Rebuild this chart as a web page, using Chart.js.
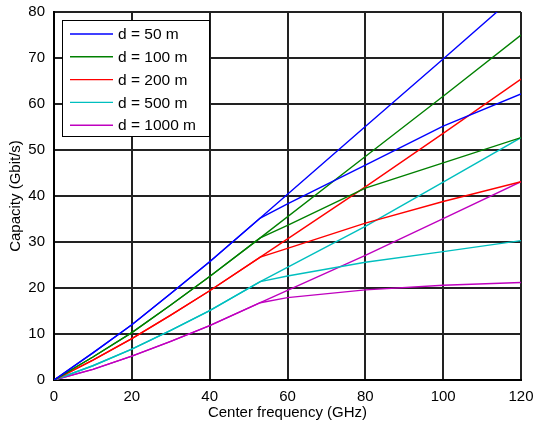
<!DOCTYPE html>
<html>
<head>
<meta charset="utf-8">
<script src="https://cdn.jsdelivr.net/npm/chart.js@4/dist/chart.umd.min.js"></script>
<style>
html,body{margin:0;padding:0;background:#fff;}
#wrap{width:533px;height:424px;position:relative;}
</style>
</head>
<body>
<div id="wrap"><canvas id="c" width="533" height="424"></canvas></div>
<script>
// ---- data ----
const distances = [50, 100, 200, 500, 1000];
const colors = ['#0000FF', '#008000', '#FF0000', '#00BFBF', '#BF00BF'];

const sharedFreq = [0, 10, 20, 30, 40, 53];
const blueShared = [0, 5.9, 12.0, 18.8, 25.7, 35.2];
const greenShared = [0, 5.0, 10.3, 16.3, 22.5, 30.9];
const redShared = [0, 4.3, 9.0, 14.1, 19.4, 26.7];
const cyanShared = [0, 3.1, 6.7, 10.8, 15.1, 21.4];
const magentaShared = [0, 2.3, 5.2, 8.4, 11.8, 16.8];

const upperFreq = [80, 100, 120];
const blueUpper = [55.1, 69.8, 84.6];
const greenUpper = [48.6, 61.7, 75.0];
const redUpper = [42.0, 53.6, 65.4];
const cyanUpper = [33.4, 43.0, 52.7];
const magentaUpper = [27.1, 35.1, 43.1];

const lowerFreq = [60, 80, 100, 120];
const blueLower = [38.3, 46.7, 55.2, 62.2];
const greenLower = [33.6, 41.7, 47.2, 52.7];
const redLower = [28.6, 34.1, 38.8, 43.1];
const cyanLower = [22.6, 25.6, 27.9, 30.3];
const magentaLower = [17.9, 19.6, 20.6, 21.2];

const xTicks = [0, 20, 40, 60, 80, 100, 120];
const yTicks = [0, 10, 20, 30, 40, 50, 60, 70, 80];

const shared = [blueShared, greenShared, redShared, cyanShared, magentaShared];
const upper = [blueUpper, greenUpper, redUpper, cyanUpper, magentaUpper];
const lower = [blueLower, greenLower, redLower, cyanLower, magentaLower];

function pts(xs, ys) { return xs.map((x, i) => ({x: x, y: ys[i]})); }

const datasets = [];
distances.forEach((d, i) => {
  const sh = pts(sharedFreq, shared[i]);
  datasets.push({
    label: 'd = ' + d + ' m', data: sh.concat(pts(upperFreq, upper[i])),
    borderColor: colors[i], backgroundColor: colors[i], borderWidth: 1.4,
    pointRadius: 0, tension: 0, fill: false, inLegend: true
  });
  datasets.push({
    label: 'd = ' + d + ' m (branch)', data: sh.concat(pts(lowerFreq, lower[i])),
    borderColor: colors[i], backgroundColor: colors[i], borderWidth: 1.4,
    pointRadius: 0, tension: 0, fill: false, inLegend: false
  });
});

const FONT = '"Liberation Sans", Arial, sans-serif';

const legendPlugin = {
  id: 'boxLegend',
  afterDatasetsDraw(chart) {
    const ctx = chart.ctx;
    const items = chart.data.datasets.filter(ds => ds.inLegend);
    const left = 62.5, top = 20.5, w = 147, h = 116;
    ctx.save();
    ctx.fillStyle = '#fff';
    ctx.fillRect(left, top, w, h);
    ctx.strokeStyle = '#000';
    ctx.lineWidth = 1;
    ctx.strokeRect(left, top, w, h);
    ctx.font = '15.5px ' + FONT;
    ctx.textBaseline = 'middle';
    ctx.textAlign = 'left';
    items.forEach((ds, k) => {
      const y = 34 + k * 22.8;
      ctx.strokeStyle = ds.borderColor;
      ctx.lineWidth = 1.4;
      ctx.beginPath();
      ctx.moveTo(70, y);
      ctx.lineTo(113, y);
      ctx.stroke();
      ctx.fillStyle = '#000';
      ctx.fillText(ds.label, 118, y + 1);
    });
    ctx.restore();
  }
};

new Chart(document.getElementById('c'), {
  type: 'line',
  data: { datasets: datasets },
  options: {
    responsive: false,
    animation: false,
    layout: { padding: { top: 12, right: 12, left: 0, bottom: 0 } },
    plugins: { legend: { display: false }, tooltip: { enabled: false } },
    scales: {
      x: {
        type: 'linear', min: 0, max: 120,
        afterBuildTicks: s => { s.ticks = xTicks.map(v => ({value: v})); },
        afterFit: s => { s.height = 44; s.paddingRight = 0; s.paddingLeft = 0; },
        grid: { color: '#222', lineWidth: 2, drawTicks: false },
        border: { color: '#000', width: 2 },
        ticks: { color: '#000', font: { family: FONT, size: 15 }, padding: 8, maxRotation: 0 },
        title: { display: true, text: 'Center frequency (GHz)', color: '#000',
                 font: { family: FONT, size: 15 }, padding: { top: 0, bottom: 2 } }
      },
      y: {
        type: 'linear', min: 0, max: 80,
        afterBuildTicks: s => { s.ticks = yTicks.map(v => ({value: v})); },
        afterFit: s => { s.width = 54; s.paddingTop = 0; s.paddingBottom = 0; },
        grid: { color: '#222', lineWidth: 2, drawTicks: false },
        border: { color: '#000', width: 2 },
        ticks: { color: '#000', font: { family: FONT, size: 15 }, padding: 9 },
        title: { display: true, text: 'Capacity (Gbit/s)', color: '#000',
                 font: { family: FONT, size: 15 }, padding: { top: 7, bottom: 0 } }
      }
    }
  },
  plugins: [legendPlugin]
});
</script>
</body>
</html>
